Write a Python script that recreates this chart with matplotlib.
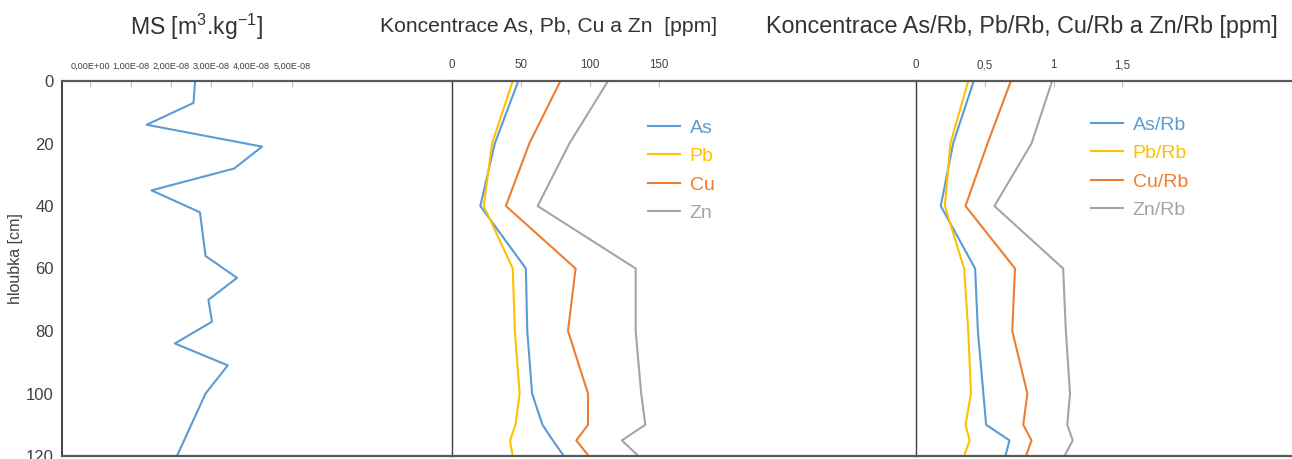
import matplotlib
matplotlib.use("Agg")
import matplotlib.pyplot as plt

plt.rcParams['font.family'] = ['Liberation Sans', 'DejaVu Sans']
plt.rcParams['mathtext.fontset'] = 'custom'
plt.rcParams['mathtext.rm'] = 'Liberation Sans'
plt.rcParams['mathtext.it'] = 'Liberation Sans'

# ---------------- data ----------------
ms_depth = [0, 7, 14, 21, 28, 35, 42, 56, 63, 70, 77, 84, 91, 100, 120]
ms_vals = [2.60e-8, 2.56e-8, 1.40e-8, 4.26e-8, 3.57e-8, 1.52e-8, 2.72e-8, 2.86e-8,
           3.64e-8, 2.93e-8, 3.02e-8, 2.10e-8, 3.41e-8, 2.86e-8, 2.15e-8]
ms_ticks = [0, 1e-8, 2e-8, 3e-8, 4e-8, 5e-8]
ms_tick_labels = ['0,00E+00', '1,00E-08', '2,00E-08', '3,00E-08', '4,00E-08', '5,00E-08']

el_depth = [0, 20, 40, 60, 80, 100, 110, 115, 120]
as_vals = [48, 31, 20.5, 53.5, 54.5, 58, 65.5, 73, 81]
pb_vals = [44, 29, 23, 44, 45.5, 49, 46, 42, 44]
cu_vals = [78.5, 56, 39, 89.5, 84, 98.5, 98.5, 90, 99]
zn_vals = [113, 85, 62, 133, 133, 137, 140, 123, 135]
el_ticks = [0, 50, 100, 150]
el_tick_labels = ['0', '50', '100', '150']

as_rb = [0.42, 0.27, 0.18, 0.43, 0.45, 0.49, 0.51, 0.68, 0.65]
pb_rb = [0.38, 0.25, 0.21, 0.35, 0.38, 0.40, 0.36, 0.39, 0.35]
cu_rb = [0.69, 0.52, 0.36, 0.72, 0.70, 0.81, 0.78, 0.84, 0.80]
zn_rb = [0.99, 0.84, 0.57, 1.07, 1.09, 1.12, 1.10, 1.14, 1.08]
rb_ticks = [0, 0.5, 1, 1.5]
rb_tick_labels = ['0', '0,5', '1', '1,5']

depth_ticks = [0, 20, 40, 60, 80, 100, 120]

el_labels = ['As', 'Pb', 'Cu', 'Zn']
rb_labels = ['As/Rb', 'Pb/Rb', 'Cu/Rb', 'Zn/Rb']
colors = ['#5B9BD5', '#FFC000', '#ED7D31', '#A5A5A5']

titles = [r'MS [m$^{3}$.kg$^{-1}$]', 'Koncentrace As, Pb, Cu a Zn  [ppm]',
          'Koncentrace As/Rb, Pb/Rb, Cu/Rb a Zn/Rb [ppm]']

# ---------------- layout ----------------
W, H = 1292, 459
fig = plt.figure(figsize=(W / 100, H / 100), dpi=100)

top_px, bot_px = 81, 456
def rect(x0, x1):
    return [x0 / W, 1 - bot_px / H, (x1 - x0) / W, (bot_px - top_px) / H]

ax1 = fig.add_axes(rect(62, 452))
ax2 = fig.add_axes(rect(452, 916))
ax3 = fig.add_axes(rect(916, 1301))

lw = 1.5
ax1.plot(ms_vals, ms_depth, color=colors[0], lw=lw)
for vals, c, lab in zip([as_vals, pb_vals, cu_vals, zn_vals], colors, el_labels):
    ax2.plot(vals, el_depth, color=c, lw=lw, label=lab)
for vals, c, lab in zip([as_rb, pb_rb, cu_rb, zn_rb], colors, rb_labels):
    ax3.plot(vals, el_depth, color=c, lw=lw, label=lab)

ax1.set_xlim(-0.70e-8, 8.97e-8)
ax2.set_xlim(0, 336)
ax3.set_xlim(0, 2.80)

for ax in (ax1, ax2, ax3):
    ax.set_ylim(120, 0)
    ax.xaxis.tick_top()
    ax.spines['top'].set_color('#595959')
    ax.spines['top'].set_linewidth(1.6)
    ax.spines['bottom'].set_color('#595959')
    ax.spines['bottom'].set_linewidth(1.6)
    ax.spines['right'].set_visible(False)
    ax.spines['left'].set_color('#404040')
    ax.spines['left'].set_linewidth(1.0)
    ax.tick_params(axis='x', direction='in', length=4, width=0.8, color='#BFBFBF',
                   labelcolor='#404040', pad=7)

ax1.set_xticks(ms_ticks)
ax1.set_xticklabels(ms_tick_labels, fontsize=6.6)
ax2.set_xticks(el_ticks)
ax2.set_xticklabels(el_tick_labels, fontsize=8.3)
ax3.set_xticks(rb_ticks)
ax3.set_xticklabels(rb_tick_labels, fontsize=8.3)

ax1.spines['left'].set_linewidth(1.4)
ax1.set_yticks(depth_ticks)
ax1.tick_params(axis='y', length=0, labelsize=12, labelcolor='#404040', pad=6)
for ax in (ax2, ax3):
    ax.set_yticks([])

fig.text(16 / W, 1 - 259 / H, 'hloubka [cm]', rotation=90, ha='center', va='center',
         fontsize=11.5, color='#404040')

title_x = [196, 549, 1022]
title_sizes = [16.6, 15.2, 16.8]
for tx, t, fs in zip(title_x, titles, title_sizes):
    fig.text(tx / W, 1 - 27 / H, t, ha='center', va='center', fontsize=fs, color='#333333')

leg_kw = dict(frameon=False, labelcolor='linecolor', fontsize=14, handlelength=1.65,
              handletextpad=0.5, labelspacing=0.56, borderpad=0, borderaxespad=0,
              loc='upper left', bbox_transform=fig.transFigure)
ax2.legend(bbox_to_anchor=(648 / W, 1 - 119 / H), **leg_kw)
ax3.legend(bbox_to_anchor=(1091 / W, 1 - 116 / H), **leg_kw)

fig.savefig('out.png', dpi=100)
